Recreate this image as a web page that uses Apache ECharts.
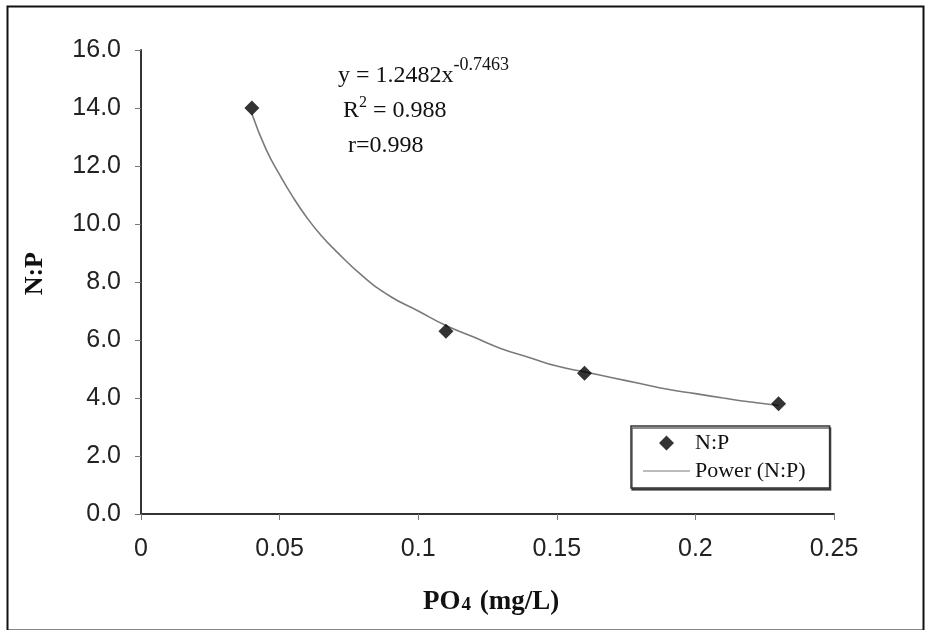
<!DOCTYPE html>
<html>
<head>
<meta charset="utf-8">
<script src="https://cdn.jsdelivr.net/npm/echarts@6/dist/echarts.min.js"></script>
<style>
html,body{margin:0;padding:0;background:#fff;}
#c{width:926px;height:630px;}
</style>
</head>
<body>
<div id="c"></div>
<script>
// Observed data points
var po4 = [0.04, 0.11, 0.16, 0.23];
var np = [14.0, 6.3, 4.85, 3.8];
// Trendline (Power (N:P))
var trendX = [0.04, 0.045, 0.05, 0.055, 0.06, 0.065, 0.07, 0.08, 0.09, 0.10, 0.11, 0.12, 0.13, 0.14, 0.15, 0.16, 0.17, 0.18, 0.19, 0.20, 0.21, 0.22, 0.23];
var trendY = [13.8, 12.6, 11.7, 10.9, 10.2, 9.6, 9.1, 8.2, 7.5, 7.0, 6.5, 6.1, 5.7, 5.4, 5.1, 4.9, 4.7, 4.5, 4.3, 4.15, 4.0, 3.86, 3.74];
var xTicks = [0, 0.05, 0.1, 0.15, 0.2, 0.25];
var yTicks = [0, 2, 4, 6, 8, 10, 12, 14, 16];

var chart = echarts.init(document.getElementById('c'));
var scatterData = po4.map(function(x, i){ return [x, np[i]]; });
var trendData = trendX.map(function(x, i){ return [x, trendY[i]]; });

chart.setOption({
  animation: false,
  backgroundColor: '#fff',
  grid: {left: 141, top: 50, width: 693, height: 464, containLabel: false},
  xAxis: {
    type: 'value', min: xTicks[0], max: xTicks[xTicks.length-1], interval: 0.05,
    axisLine: {show: true, onZero: false, lineStyle: {color: '#333', width: 2}},
    axisTick: {show: true, length: 6, inside: false, lineStyle: {color: '#777', width: 1}},
    axisLabel: {color: '#222', fontFamily: 'Liberation Sans', fontSize: 25, margin: 23,
      formatter: function(v){ return String(Math.round(v*100)/100); }},
    splitLine: {show: false}
  },
  yAxis: {
    type: 'value', min: yTicks[0], max: yTicks[yTicks.length-1], interval: 2,
    axisLine: {show: true, onZero: false, lineStyle: {color: '#333', width: 2}},
    axisTick: {show: true, length: 6, inside: false, lineStyle: {color: '#777', width: 1}},
    axisLabel: {color: '#222', fontFamily: 'Liberation Sans', fontSize: 25, margin: 20,
      formatter: function(v){ return v.toFixed(1); }},
    splitLine: {show: false}
  },
  legend: {
    left: 631, top: 426, orient: 'vertical',
    backgroundColor: '#fff', borderColor: '#333', borderWidth: 1.5,
    shadowColor: 'rgba(0,0,0,0.6)', shadowOffsetX: 1, shadowOffsetY: 2, shadowBlur: 0,
    padding: [6, 24, 6, 12], itemWidth: 47, itemHeight: 15, itemGap: 6, itemTextGap: 6,
    textStyle: {fontFamily: 'Liberation Serif', fontSize: 22, color: '#111'},
    data: [
      {name: 'N:P', icon: 'path://M0,7.5L0.01,7.5L0,7.51Z M16,7.5L23.5,0L31,7.5L23.5,15Z M46.99,7.5L47,7.5L47,7.51Z'},
      {name: 'Power (N:P)', icon: 'path://M0,0L47,0L47,1.2L0,1.2Z'}
    ]
  },
  series: [
    {
      name: 'Power (N:P)', type: 'line', data: trendData, smooth: true,
      showSymbol: false, symbol: 'none',
      lineStyle: {color: '#7a7a7a', width: 1.6},
      itemStyle: {color: '#7a7a7a'}, z: 2
    },
    {
      name: 'N:P', type: 'scatter', data: scatterData,
      symbol: 'diamond', symbolSize: 15,
      itemStyle: {color: '#000'}, z: 3
    }
  ],
  graphic: [
    {type: 'rect', left: 5, top: 4, shape: {width: 916, height: 624}, style: {fill: 'none', stroke: '#111', lineWidth: 2}, z: 0},
    {type: 'text', left: 338, top: 56, style: {
      text: '{m|y = 1.2482x}{s|-0.7463}', rich: {
        m: {fontFamily: 'Liberation Serif', fontSize: 24, fill: '#111', verticalAlign: 'bottom'},
        s: {fontFamily: 'Liberation Serif', fontSize: 18, fill: '#111', verticalAlign: 'top', padding: [0,0,14,0]}
      }}},
    {type: 'text', left: 343, top: 95, style: {
      text: '{m|R}{s|2}{m| = 0.988}', rich: {
        m: {fontFamily: 'Liberation Serif', fontSize: 24, fill: '#111', verticalAlign: 'bottom'},
        s: {fontFamily: 'Liberation Serif', fontSize: 16, fill: '#111', verticalAlign: 'top', padding: [0,0,12,0]}
      }}},
    {type: 'text', left: 348, top: 134, style: {text: 'r=0.998', fontFamily: 'Liberation Serif', fontSize: 24, fill: '#111'}},
    {type: 'text', left: 22, top: 252, rotation: Math.PI/2,
      style: {text: 'N:P', fontFamily: 'Liberation Serif', fontWeight: 'bold', fontSize: 26, fill: '#111'}},
    {type: 'text', left: 423, top: 589, style: {
      text: '{b|PO}{sub|4}{b| (mg/L)}', rich: {
        b: {fontFamily: 'Liberation Serif', fontWeight: 'bold', fontSize: 27, fill: '#111'},
        sub: {fontFamily: 'Liberation Serif', fontWeight: 'bold', fontSize: 19, fill: '#111', padding: [6,2,0,1]}
      }}}
  ]
});
</script>
</body>
</html>
